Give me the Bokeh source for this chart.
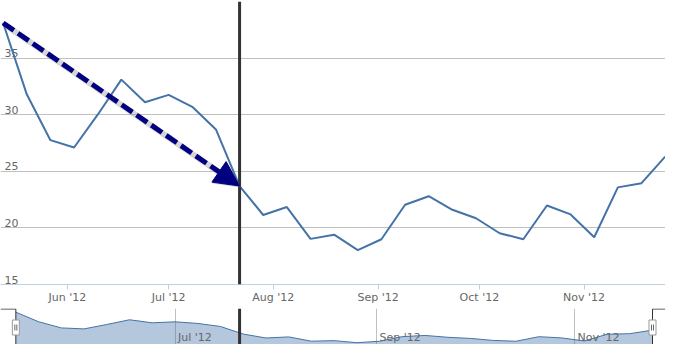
import numpy as np
import pandas as pd
from bokeh.plotting import figure
from bokeh.models import Range1d, FixedTicker, DatetimeTickFormatter, Span, Arrow, NormalHead
from bokeh.layouts import column
from bokeh.embed import file_html
from bokeh.resources import INLINE
from bokeh.core.properties import value

# ---------------- data ----------------
dates = list(pd.date_range("2012-05-13", periods=29, freq="7D"))
values = [38.1, 31.8, 27.75, 27.1, 30.0, 33.1, 31.1, 31.75, 30.7, 28.7,
          23.7, 21.14, 21.84, 19.03, 19.4, 18.04, 19.0, 22.04, 22.8, 21.6,
          20.85, 19.53, 19.0, 21.98, 21.19, 19.17, 23.58, 23.95, 26.3]
y_ticks = [15, 20, 25, 30, 35, 40]
y_labels = ["15", "20", "25", "30", "35"]
x_ticks = ["2012-06-01", "2012-07-01", "2012-08-01", "2012-09-01", "2012-10-01", "2012-11-01"]
nav_ticks = ["2012-07-01", "2012-09-01", "2012-11-01"]
nav_labels = ["Jul '12", "Sep '12", "Nov '12"]
marker_index = 10  # point where the arrow ends and the vertical line stands


def ms(t):
    return pd.Timestamp(t).value / 1e6


xs = [ms(d) for d in dates]
day = 86400000.0

# ---------------- layout ----------------
W = 665
H_MAIN = 308
H_NAV = 36
PLOT_H = 283

main_start = xs[0] - 0.78 * day
main_end = xs[-1] + 0.1 * day
nav_start = xs[0] - 4.72 * day
nav_end = xs[-1] + 4.0 * day

FONT = "DejaVu Sans"
LABEL_COLOR = "#666666"
SERIES = "#4572A7"

# ---------------- main chart ----------------
p = figure(width=W, height=H_MAIN, x_axis_type="datetime",
           x_range=Range1d(main_start, main_end), y_range=Range1d(15, 40),
           y_axis_location=None, output_backend="svg", toolbar_location=None,
           min_border_left=0, min_border_right=0, min_border_top=1,
           min_border_bottom=H_MAIN - 1 - PLOT_H, outline_line_color=None,
           background_fill_color="white", border_fill_color="white")

p.xgrid.visible = False
p.ygrid.ticker = FixedTicker(ticks=y_ticks)
p.ygrid.grid_line_color = "#C0C0C0"
p.ygrid.grid_line_width = 1

p.xaxis.ticker = FixedTicker(ticks=[ms(t) for t in x_ticks])
fmt = "%b '%y"
p.xaxis.formatter = DatetimeTickFormatter(days=fmt, months=fmt, years=fmt, hours=fmt)
p.xaxis.axis_line_color = "#C0D0E0"
p.xaxis.major_tick_line_color = "#C0D0E0"
p.xaxis.major_tick_in = 0
p.xaxis.major_tick_out = 5
p.xaxis.minor_tick_line_color = None
p.xaxis.major_label_standoff = 1
p.xaxis.major_label_text_font = FONT
p.xaxis.major_label_text_font_size = "11px"
p.xaxis.major_label_text_color = LABEL_COLOR

# y labels sitting inside the plot, just above the grid lines
p.text(x=[main_start] * len(y_labels), y=y_ticks[:len(y_labels)], text=y_labels,
       x_offset=4, y_offset=-1, text_align="left", text_baseline="bottom",
       text_font=value(FONT), text_font_size=value("11px"), text_color=LABEL_COLOR)

p.line(xs, values, line_color=SERIES, line_width=2)

# vertical dark line
x_mark = xs[marker_index]
p.add_layout(Span(location=x_mark, dimension="height", line_color="#333333", line_width=3))

# dashed arrow with shadow
px_x = (main_end - main_start) / W
px_y = 25.0 / PLOT_H
x0, y0 = xs[0], values[0]
x1, y1 = xs[marker_index], values[marker_index]
shadow = Arrow(x_start=x0 + 1.5 * px_x, y_start=y0 - 1.5 * px_y,
               x_end=x1 + 1.5 * px_x, y_end=y1 - 1.5 * px_y,
               line_color="#888888", line_alpha=0.35, line_width=6,
               end=NormalHead(size=26, fill_color="#888888", fill_alpha=0.4,
                              line_color=None))
p.add_layout(shadow)
arrow = Arrow(x_start=x0, y_start=y0, x_end=x1, y_end=y1,
              line_color="#000080", line_width=5, line_dash="13 5",
              end=NormalHead(size=25, fill_color="#000080", line_color="#000080",
                             line_width=1))
p.add_layout(arrow)

# ---------------- navigator ----------------
nav_y0, nav_y1 = 16.86, 40.5
nav_top = 40.17
n = figure(width=W, height=H_NAV, x_range=Range1d(nav_start, nav_end),
           y_range=Range1d(nav_y0, nav_y1), x_axis_location=None, y_axis_location=None,
           output_backend="svg", toolbar_location=None, min_border=0,
           outline_line_color=None, background_fill_color="white",
           border_fill_color="white")
n.ygrid.visible = False
n.xgrid.ticker = FixedTicker(ticks=[ms(t) for t in nav_ticks])
n.xgrid.grid_line_color = "#C0C0C0"
n.xgrid.grid_line_width = 1

n.varea(x=xs, y1=[nav_y0] * len(xs), y2=values, fill_color=SERIES, fill_alpha=0.4)
n.line(xs, values, line_color=SERIES, line_width=1)

n.text(x=[ms(t) for t in nav_ticks], y=[nav_y0] * len(nav_ticks), text=nav_labels,
       x_offset=3, y_offset=-1, text_align="left", text_baseline="bottom",
       text_font=value(FONT), text_font_size=value("11px"), text_color=LABEL_COLOR)

# outline of the selected zone
n.multi_line(xs=[[nav_start, xs[0], xs[0]], [nav_end, xs[-1], xs[-1]]],
             ys=[[nav_top, nav_top, nav_y0], [nav_top, nav_top, nav_y0]],
             line_color="#333333", line_width=1)

# vertical dark line continued through the navigator (same pixel column)
frac = (x_mark - main_start) / (main_end - main_start)
nav_mark = nav_start + frac * (nav_end - nav_start)
n.add_layout(Span(location=nav_mark, dimension="height", line_color="#333333", line_width=3))

# handles
nav_px = (nav_end - nav_start) / W
handle_y = nav_y1 - 19 * (nav_y1 - nav_y0) / H_NAV
hx = [xs[0], xs[-1]]
n.rect(x=hx, y=[handle_y, handle_y], width=7, height=15, width_units="screen",
       height_units="screen", fill_color="white", line_color="#999999", line_width=1)
n.scatter(x=[hx[0] - nav_px, hx[0] + nav_px, hx[1] - nav_px, hx[1] + nav_px],
          y=[handle_y] * 4, marker="dash", angle=np.pi / 2, size=6,
          line_color="#666666", line_width=1)

layout = column(p, n, spacing=0)
open("out.html", "w").write(file_html(layout, INLINE))
